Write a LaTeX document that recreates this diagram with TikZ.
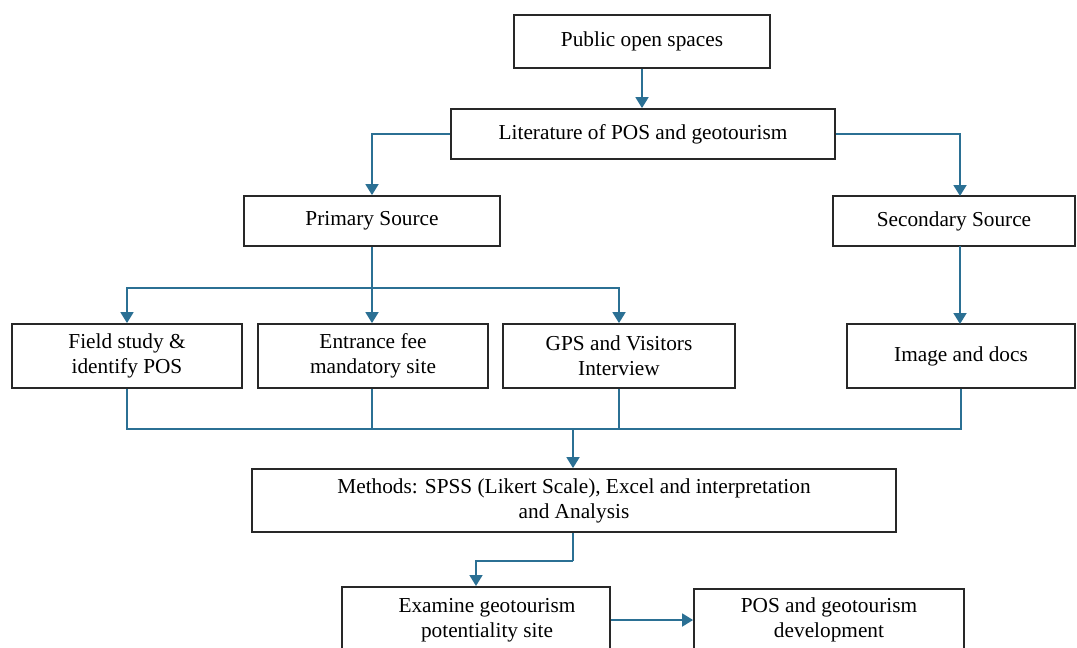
\documentclass[tikz,border=0pt]{standalone}
\usepackage{fontspec}
\setmainfont{Liberation Serif}
\usetikzlibrary{arrows.meta}
\definecolor{conn}{RGB}{43,112,148}
\definecolor{boxline}{RGB}{40,40,40}
\begin{document}
\begin{tikzpicture}[x=1pt,y=-1pt,
  box/.style={draw=boxline,line width=1.8pt,inner sep=0pt,font=\fontsize{21.3}{25}\selectfont,align=center},
  lbl/.style={inner sep=0pt,font=\fontsize{21.3}{25}\selectfont,align=center},
  link/.style={draw=conn,line width=1.8pt},
  arr/.style={link,-{Triangle[width=13pt,length=11pt]}}]
\useasboundingbox (0,0) rectangle (1077,648);
\clip (0,0) rectangle (1077,648);
\node[box,minimum width=256,minimum height=53] (pub) at (642,41.5) {Public open spaces};
\node[box,minimum width=384,minimum height=50] (lit) at (643,134) {Literature of POS and geotourism};
\node[box,minimum width=256,minimum height=50] (prim) at (372,221) {Primary Source};
\node[box,minimum width=242,minimum height=50] (sec) at (954,221) {Secondary Source};
\node[box,minimum width=230,minimum height=64] (field) at (127,356) {Field study \&\\identify POS};
\node[box,minimum width=230,minimum height=64] (fee) at (373,356) {Entrance fee\\mandatory site};
\node[box,minimum width=232,minimum height=64] (gps) at (619,356) {GPS and Visitors\\Interview};
\node[box,minimum width=228,minimum height=64] (img) at (961,356) {Image and docs};
\node[box,minimum width=644,minimum height=63] (meth) at (574,500.5) {Methods: SPSS (Likert Scale), Excel and interpretation\\and Analysis};
\node[box,anchor=north,minimum width=268,minimum height=100] (exam) at (476,586) {};
\node[lbl] (examt) at (487,620) {Examine geotourism\\potentiality site};
\node[box,anchor=north,minimum width=270,minimum height=100] (dev) at (829,588) {};
\node[lbl] (devt) at (829,620) {POS and geotourism\\development};
\coordinate (j1) at (372,288);
\coordinate (j2) at (573,429);
\coordinate (m1) at (573,561);
\draw[arr] (pub.south) -- (lit.north -| pub.south);
\draw[arr] (lit.west) -| (prim.north);
\draw[arr] (lit.east) -| (960,196);
\draw[link] (prim.south) -- (j1);
\draw[arr] (j1) -| (field.north);
\draw[arr] (j1) -- (fee.north -| j1);
\draw[arr] (j1) -| (gps.north);
\draw[arr] (960,246) -- (960,324);
\draw[link] (field.south) |- (j2);
\draw[link] (fee.south -| j1) |- (j2);
\draw[link] (gps.south) |- (j2);
\draw[link] (img.south) |- (j2);
\draw[arr] (j2) -- (meth.north -| j2);
\draw[link] (meth.south -| m1) -- (m1);
\draw[arr] (m1) -| (exam.north);
\draw[arr] (exam.east |- examt) -- (dev.west |- examt);
\end{tikzpicture}
\end{document}
